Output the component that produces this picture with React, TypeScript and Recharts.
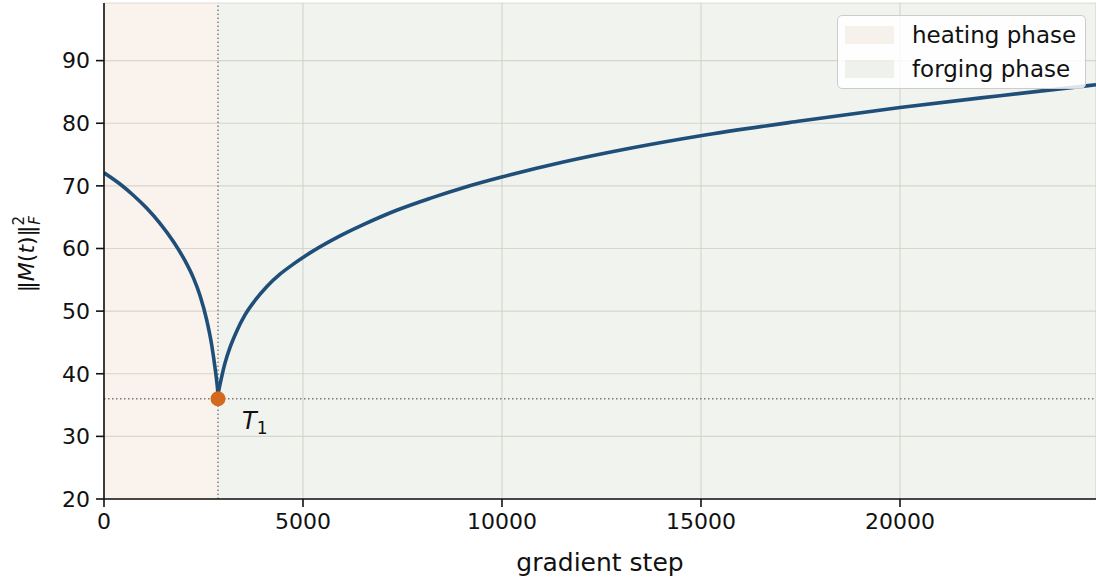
import {
  CartesianGrid,
  Line,
  LineChart,
  ReferenceArea,
  ReferenceDot,
  ReferenceLine,
  XAxis,
  YAxis,
} from 'recharts';

// gradient steps / ||M(t)||_F^2
const heatingSteps = [0, 402, 736, 1070, 1407, 1742, 2035, 2244, 2412, 2580, 2706, 2789, 2847, 2865];
const heatingValues = [72.1, 70.3, 68.5, 66.45, 64.0, 61.1, 58.05, 55.35, 52.5, 48.6, 44.6, 41.0, 38.0, 36.8];

const forgingSteps = [
  2865, 3040, 3166, 3334, 3543, 3794, 4087, 4422, 4756, 5008, 5930, 6515, 7353, 8191, 9028, 9992,
  11540, 13216, 14992, 17487, 20000, 22513, 24925,
];
const forgingValues = [
  36.8, 41.7, 44.2, 46.8, 49.4, 51.7, 53.9, 55.9, 57.5, 58.6, 62.0, 63.8, 66.1, 68.0, 69.7, 71.4,
  73.8, 76.0, 78.0, 80.35, 82.5, 84.4, 86.15,
];

const T1_STEP = 2865;
const T1_VALUE = 36;
const X_MAX = 24925;
const Y_MIN = 20;
const Y_MAX = 99.2;

const xTicks = [0, 5000, 10000, 15000, 20000];
const yTicks = [20, 30, 40, 50, 60, 70, 80, 90];

const phases = [
  { label: 'heating phase', color: '#b45c1e', opacity: 0.08 },
  { label: 'forging phase', color: '#738755', opacity: 0.1 },
];

const FONT = '"DejaVu Sans", sans-serif';
const LINE_COLOR = '#1f4e79';
const DOT_COLOR = '#d2691e';

const heatingData = heatingSteps.map((step, i) => ({ step, value: heatingValues[i] }));
const forgingData = forgingSteps.map((step, i) => ({ step, value: forgingValues[i] }));

function PhaseLegend() {
  return (
    <div
      style={{
        position: 'absolute',
        left: 837,
        top: 15,
        width: 249,
        height: 74,
        boxSizing: 'border-box',
        background: 'rgba(255,255,255,0.85)',
        border: '1.5px solid #cccccc',
        borderRadius: 5,
        fontFamily: FONT,
        fontSize: 23,
        color: '#111',
      }}
    >
      {phases.map((p, i) => (
        <div
          key={p.label}
          style={{
            position: 'absolute',
            top: 2 + i * 34,
            left: 7,
            height: 34,
            display: 'flex',
            alignItems: 'center',
            whiteSpace: 'nowrap',
          }}
        >
          <span
            style={{
              display: 'inline-block',
              width: 49,
              height: 18,
              marginRight: 18,
              background: p.color,
              opacity: p.opacity,
            }}
          />
          <span>{p.label}</span>
        </div>
      ))}
    </div>
  );
}

function T1Label(props: any) {
  const vb = props.viewBox || {};
  const cx = (vb.x ?? 0) + (vb.width ?? 0) / 2;
  const cy = (vb.y ?? 0) + (vb.height ?? 0) / 2;
  return (
    <text x={cx + 24} y={cy + 30} fontFamily={FONT} fontSize={24} fill="#111">
      <tspan fontStyle="italic">T</tspan>
      <tspan fontSize={17} dy={5}>1</tspan>
    </text>
  );
}

function YLabel() {
  return (
    <text
      transform="translate(34, 254) rotate(-90)"
      textAnchor="middle"
      fontFamily={FONT}
      fontSize={22}
      fill="#111"
    >
      <tspan>‖</tspan>
      <tspan fontStyle="italic">M</tspan>
      <tspan>(</tspan>
      <tspan fontStyle="italic">t</tspan>
      <tspan>)‖</tspan>
      <tspan fontSize={15} dy={-10}>2</tspan>
      <tspan fontSize={15} fontStyle="italic" dx={-9} dy={16}>F</tspan>
    </text>
  );
}

export default function App() {
  return (
    <div style={{ width: 1096, height: 585, background: '#fff', position: 'relative' }}>
      <style>{`body{margin:0}`}</style>
      <LineChart
        width={1096}
        height={585}
        margin={{ top: 3, right: 0, bottom: 46, left: 0 }}
      >
        <ReferenceArea
          x1={0}
          x2={T1_STEP}
          y1={Y_MIN}
          y2={Y_MAX}
          fill={phases[0].color}
          fillOpacity={phases[0].opacity}
          stroke="none"
        />
        <ReferenceArea
          x1={T1_STEP}
          x2={X_MAX}
          y1={Y_MIN}
          y2={Y_MAX}
          fill={phases[1].color}
          fillOpacity={phases[1].opacity}
          stroke="none"
        />
        <CartesianGrid stroke="#d8d8d4" strokeWidth={1.2} strokeOpacity={0.8} />
        <XAxis
          dataKey="step"
          type="number"
          domain={[0, X_MAX]}
          ticks={xTicks}
          allowDataOverflow
          height={40}
          axisLine={{ stroke: '#111', strokeWidth: 1.6 }}
          tickLine={{ stroke: '#111', strokeWidth: 1.6 }}
          tickSize={8}
          tickMargin={6}
          tick={{ fill: '#111', fontSize: 22, fontFamily: FONT }}
          label={{
            value: 'gradient step',
            position: 'bottom',
            offset: 14,
            style: { fill: '#111', fontSize: 25, fontFamily: FONT },
          }}
        />
        <YAxis
          type="number"
          domain={[Y_MIN, Y_MAX]}
          ticks={yTicks}
          allowDataOverflow
          width={104}
          axisLine={{ stroke: '#111', strokeWidth: 1.6 }}
          tickLine={{ stroke: '#111', strokeWidth: 1.6 }}
          tickSize={8}
          tickMargin={6}
          tick={{ fill: '#111', fontSize: 22, fontFamily: FONT }}
          label={<YLabel />}
        />
        <ReferenceLine
          x={T1_STEP}
          stroke="#777"
          strokeWidth={1.4}
          strokeDasharray="1.5 2.5"
        />
        <ReferenceLine
          y={T1_VALUE}
          stroke="#777"
          strokeWidth={1.4}
          strokeDasharray="1.5 2.5"
        />
        <Line
          data={heatingData}
          dataKey="value"
          type="monotone"
          stroke={LINE_COLOR}
          strokeWidth={3.6}
          dot={false}
          activeDot={false}
          isAnimationActive={false}
        />
        <Line
          data={forgingData}
          dataKey="value"
          type="monotone"
          stroke={LINE_COLOR}
          strokeWidth={3.6}
          dot={false}
          activeDot={false}
          isAnimationActive={false}
        />
        <ReferenceDot
          x={T1_STEP}
          y={T1_VALUE}
          r={7.5}
          fill={DOT_COLOR}
          stroke="none"
          label={<T1Label />}
        />
      </LineChart>
      <PhaseLegend />
    </div>
  );
}
